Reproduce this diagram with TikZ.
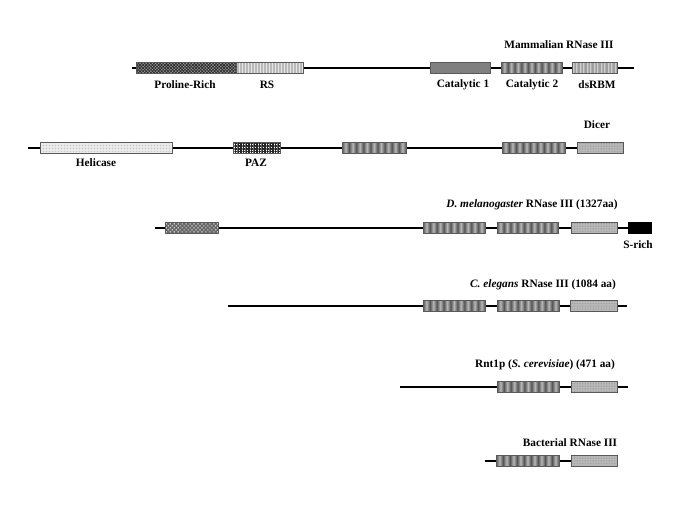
\documentclass[tikz,border=0pt]{standalone}
\usepackage{fontspec}
\setmainfont{Liberation Serif}
\usetikzlibrary{patterns,patterns.meta}
\definecolor{sd}{gray}{0.33}
\definecolor{sl}{gray}{0.72}
\pgfdeclarehorizontalshading{catstripes}{100bp}{color(0bp)=(sd); color(25bp)=(sd);
 color(27.78bp)=(sl); color(30.56bp)=(sd); color(33.33bp)=(sl); color(36.11bp)=(sd);
 color(38.89bp)=(sl); color(41.67bp)=(sd); color(44.44bp)=(sl); color(47.22bp)=(sd);
 color(50bp)=(sl); color(52.78bp)=(sd); color(55.56bp)=(sl); color(58.33bp)=(sd);
 color(61.11bp)=(sl); color(63.89bp)=(sd); color(66.67bp)=(sl); color(69.44bp)=(sd);
 color(72.22bp)=(sl); color(75bp)=(sd); color(100bp)=(sd)}
\tikzset{
  chain/.style={line width=1.8pt, black},
  dom/.style={draw=black!65, line width=0.4pt, minimum height=11pt, inner sep=0pt, outer sep=0pt},
  lbl/.style={font=\bfseries\fontsize{11.3}{13}\selectfont, inner sep=0pt},
  prolinebox/.style={dom, preaction={fill=gray!70}, pattern={Hatch[angle=45,distance=2.2pt,line width=0.9pt]}, pattern color=black!80},
  rsbox/.style={dom, preaction={fill=gray!20}, pattern={Lines[angle=90,distance=1.5pt,line width=0.45pt]}, pattern color=gray!55},
  cataone/.style={dom, fill=black!50},
  catatwo/.style={dom, shading=catstripes},
  dsrbmbox/.style={dom, preaction={fill=gray!38}, pattern={Lines[angle=90,distance=1.4pt,line width=0.5pt]}, pattern color=gray!75},
  helibox/.style={dom, preaction={fill=gray!10}, pattern={Dots[radius=0.35pt,distance=1.5pt]}, pattern color=gray!60},
  pazbox/.style={dom, preaction={fill=white}, pattern={Hatch[angle=0,distance=1.6pt,line width=0.6pt]}, pattern color=black!85},
  dottedbox/.style={dom, preaction={fill=gray!52}, pattern={Dots[radius=0.45pt,distance=1.6pt]}, pattern color=gray!85},
  checkbox/.style={dom, preaction={fill=black!60}, pattern={Dots[radius=0.8pt,distance=2.8pt,angle=45]}, pattern color=white},
  srichbox/.style={dom, fill=black, draw=black}
}
\newcommand\domain[5]{\node[#2, minimum width={(#4)-(#3)}] (#1) at ({((#3)+(#4))/2},#5) {};}
\begin{document}
\begin{tikzpicture}[x=1pt,y=-1pt]
\useasboundingbox (0,0) rectangle (685,513);
% Row 1: Mammalian
\node[lbl] (t1) at (559,45) {Mammalian RNase III};
\coordinate (a1) at (132,68); \coordinate (b1) at (634,68);
\draw[chain] (a1) -- (b1);
\domain{pr}{prolinebox}{136}{236}{68}
\domain{rs}{rsbox}{236}{303}{68}
\domain{c1}{cataone}{430}{490}{68}
\domain{c2}{catatwo}{501}{562}{68}
\domain{ds}{dsrbmbox}{572}{617}{68}
\node[lbl] (lpr) at (185,85) {Proline-Rich};
\node[lbl] (lrs) at (267,85) {RS};
\node[lbl] (lc1) at (463,85) {Catalytic 1};
\node[lbl] (lc2) at (532,85) {Catalytic 2};
\node[lbl] (lds) at (597,85) {dsRBM};
% Row 2: Dicer
\node[lbl] (t2) at (597,125) {Dicer};
\coordinate (a2) at (28,148); \coordinate (b2) at (623,148);
\draw[chain] (a2) -- (b2);
\domain{hel}{helibox}{40}{172}{148}
\domain{paz}{pazbox}{233}{280}{148}
\domain{d1}{catatwo}{342}{406}{148}
\domain{d2}{catatwo}{502}{565}{148}
\domain{d3}{dottedbox}{577}{623}{148}
\node[lbl] (lhel) at (96,163) {Helicase};
\node[lbl] (lpaz) at (256,163) {PAZ};
% Row 3: D. melanogaster
\node[lbl] (t3) at (532,205) {\textit{D. melanogaster} RNase III (1327aa)};
\coordinate (a3) at (155,228); \coordinate (b3) at (628,228);
\draw[chain] (a3) -- (b3);
\domain{m0}{checkbox}{165}{218}{228}
\domain{m1}{catatwo}{423}{485}{228}
\domain{m2}{catatwo}{497}{558}{228}
\domain{m3}{dottedbox}{571}{617}{228}
\domain{m4}{srichbox}{628}{651}{228}
\node[lbl] (lsr) at (638,245) {S-rich};
% Row 4: C. elegans
\node[lbl] (t4) at (543,285) {\textit{C. elegans} RNase III (1084 aa)};
\coordinate (a4) at (228,306); \coordinate (b4) at (627,306);
\draw[chain] (a4) -- (b4);
\domain{e1}{catatwo}{423}{485}{306}
\domain{e2}{catatwo}{497}{559}{306}
\domain{e3}{dottedbox}{570}{617}{306}
% Row 5: Rnt1p
\node[lbl] (t5) at (545,365) {Rnt1p (\textit{S. cerevisiae}) (471 aa)};
\coordinate (a5) at (400,387); \coordinate (b5) at (628,387);
\draw[chain] (a5) -- (b5);
\domain{y1}{catatwo}{497}{559}{387}
\domain{y2}{dottedbox}{571}{617}{387}
% Row 6: Bacterial
\node[lbl] (t6) at (570,443) {Bacterial RNase III};
\coordinate (a6) at (485,461); \coordinate (b6) at (571,461);
\draw[chain] (a6) -- (b6);
\domain{b1}{catatwo}{496}{559}{461}
\domain{b2}{dottedbox}{571}{617}{461}
\end{tikzpicture}
\end{document}
